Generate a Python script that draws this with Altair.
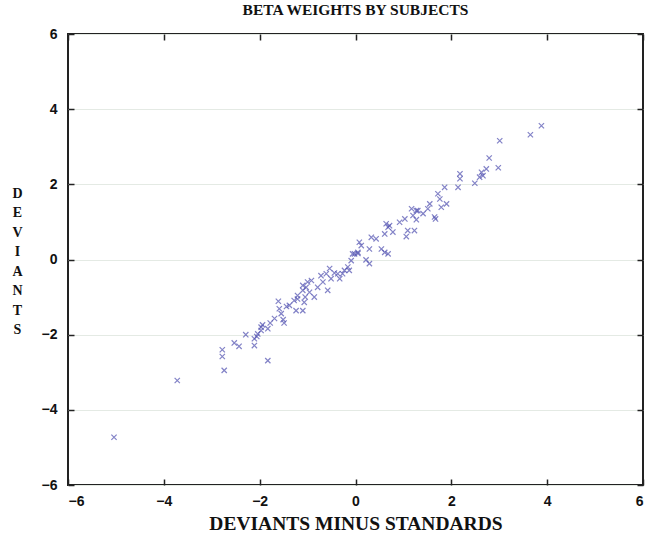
import altair as alt
import pandas as pd

# Values (Deviants minus Standards vs Deviants)
dev_minus_std = [
    -5.04, -3.72, -2.78, -2.78, -2.74, -2.53, -2.43, -2.29, -2.11, -2.11,
    -2.06, -2.04, -1.97, -1.94, -1.83, -1.78, -1.83, -1.61, -1.59, -1.55,
    -1.51, -1.49, -1.44, -1.24, -1.10, -1.21, -1.21, -1.10, -1.03, -1.05,
    -1.10, -1.00, -1.07, -0.96, -0.86, -0.79, -0.72, -0.68, -0.61, -0.58,
    -0.51, -0.44, -0.37, -0.33, -0.27, -0.23, -0.16, -0.13, -0.09, -0.02,
    0.05, 0.08, 0.12, 0.22, 0.29, 0.29, 0.33, 0.43, 0.54, 0.61,
    0.68, 0.71, 0.78, 0.64, 0.92, 1.03, 1.06, 1.17, 1.20, 1.27,
    1.23, 1.30, 1.41, 1.51, 1.55, 1.65, 1.72, 1.76, 1.79, 1.86,
    1.90, 2.14, 2.18, 2.18, 2.49, 2.59, 2.63, 2.66, 2.73, 2.79,
    2.98, 3.01, 3.65, 3.88, 1.67, 0.68, -0.06, 0.61, 1.09, 1.27,
    0.05, -1.28, -1.38, -0.92, -1.97, -0.54, -1.69,
]
deviants = [
    -4.73, -3.22, -2.40, -2.58, -2.95, -2.22, -2.31, -2.00, -2.29, -2.11,
    -2.05, -1.98, -1.80, -1.74, -2.69, -1.69, -1.84, -1.11, -1.31, -1.44,
    -1.60, -1.69, -1.25, -1.36, -1.36, -0.96, -1.05, -0.82, -0.74, -1.00,
    -0.69, -0.60, -1.14, -0.87, -1.00, -0.74, -0.43, -0.60, -0.38, -0.82,
    -0.51, -0.36, -0.38, -0.51, -0.38, -0.29, -0.20, -0.29, -0.03, 0.15,
    0.19, 0.46, 0.37, -0.01, -0.11, 0.28, 0.59, 0.55, 0.28, 0.68,
    0.15, 0.90, 0.73, 0.95, 0.99, 1.08, 0.61, 1.35, 1.17, 1.06,
    0.77, 1.30, 1.22, 1.35, 1.48, 1.13, 1.75, 1.61, 1.39, 1.92,
    1.48, 1.92, 2.15, 2.28, 2.03, 2.19, 2.32, 2.23, 2.41, 2.70,
    2.44, 3.16, 3.32, 3.56, 1.08, 0.86, 0.15, 0.19, 0.77, 1.30,
    0.16, -1.09, -1.22, -0.56, -1.89, -0.24, -1.57,
]
tick_values = [-6, -4, -2, 0, 2, 4, 6]
axis_domain = [-6, 6]
title_text = "BETA WEIGHTS BY SUBJECTS"
x_title = "DEVIANTS MINUS STANDARDS"
y_title_letters = ["D", "E", "V", "I", "A", "N", "T", "S"]

df = pd.DataFrame({"dms": dev_minus_std, "dev": deviants})

xscale = alt.Scale(domain=axis_domain, nice=False, zero=False)
yscale = alt.Scale(domain=axis_domain, nice=False, zero=False)

label_style = dict(
    labelFont="Liberation Sans",
    labelFontWeight="bold",
    labelFontSize=14,
    labelColor="#111111",
    tickColor="#222222",
    tickWidth=1.5,
)

base = alt.Chart(df)

points = base.mark_point(
    shape="M-1,-1L1,1M-1,1L1,-1",
    filled=False,
    color="#4f4fb0",
    opacity=0.7,
    strokeWidth=1.2,
    size=28,
).encode(
    x=alt.X(
        "dms:Q",
        scale=xscale,
        axis=alt.Axis(
            orient="bottom",
            values=tick_values,
            offset=-6,
            tickSize=6,
            domain=False,
            grid=False,
            labelPadding=9,
            title=x_title,
            titleFont="Liberation Serif",
            titleFontWeight="bold",
            titleFontSize=19.5,
            titleColor="#111111",
            titlePadding=6,
            **label_style,
        ),
    ),
    y=alt.Y(
        "dev:Q",
        scale=yscale,
        axis=alt.Axis(
            orient="left",
            values=tick_values,
            offset=-6,
            tickSize=6,
            domain=False,
            grid=True,
            gridColor="#e4eae4",
            gridWidth=1,
            labelPadding=11,
            title=y_title_letters,
            titleAngle=0,
            titleAlign="center",
            titleBaseline="middle",
            titleX=-57,
            titleY=159,
            titleLineHeight=19.5,
            titleFont="Liberation Serif",
            titleFontWeight="bold",
            titleFontSize=14,
            titleColor="#111111",
            **label_style,
        ),
    ),
)

mirror = base.mark_point(opacity=0).encode(
    x=alt.X(
        "dms:Q",
        scale=xscale,
        axis=alt.Axis(
            orient="top",
            values=tick_values,
            offset=-6,
            tickSize=6,
            domain=False,
            grid=False,
            labels=False,
            title=None,
            tickColor="#222222",
            tickWidth=1.5,
        ),
    ),
    y=alt.Y(
        "dev:Q",
        scale=yscale,
        axis=alt.Axis(
            orient="right",
            values=tick_values,
            offset=-6,
            tickSize=6,
            domain=False,
            grid=False,
            labels=False,
            title=None,
            tickColor="#222222",
            tickWidth=1.5,
        ),
    ),
)

chart = (
    alt.layer(points, mirror)
    .resolve_axis(x="independent", y="independent")
    .properties(
        width=575,
        height=451,
        autosize=alt.AutoSizeParams(type="none"),
        padding={"left": 68, "top": 34, "right": 7, "bottom": 63},
        background="white",
        title=alt.TitleParams(
            text=title_text,
            anchor="middle",
            font="Liberation Serif",
            fontWeight="bold",
            fontSize=15.5,
            color="#111111",
            offset=9,
        ),
    )
    .configure_view(stroke="#222222", strokeWidth=2)
)

chart.save("out.html", embed_options={"renderer": "svg", "actions": False})
